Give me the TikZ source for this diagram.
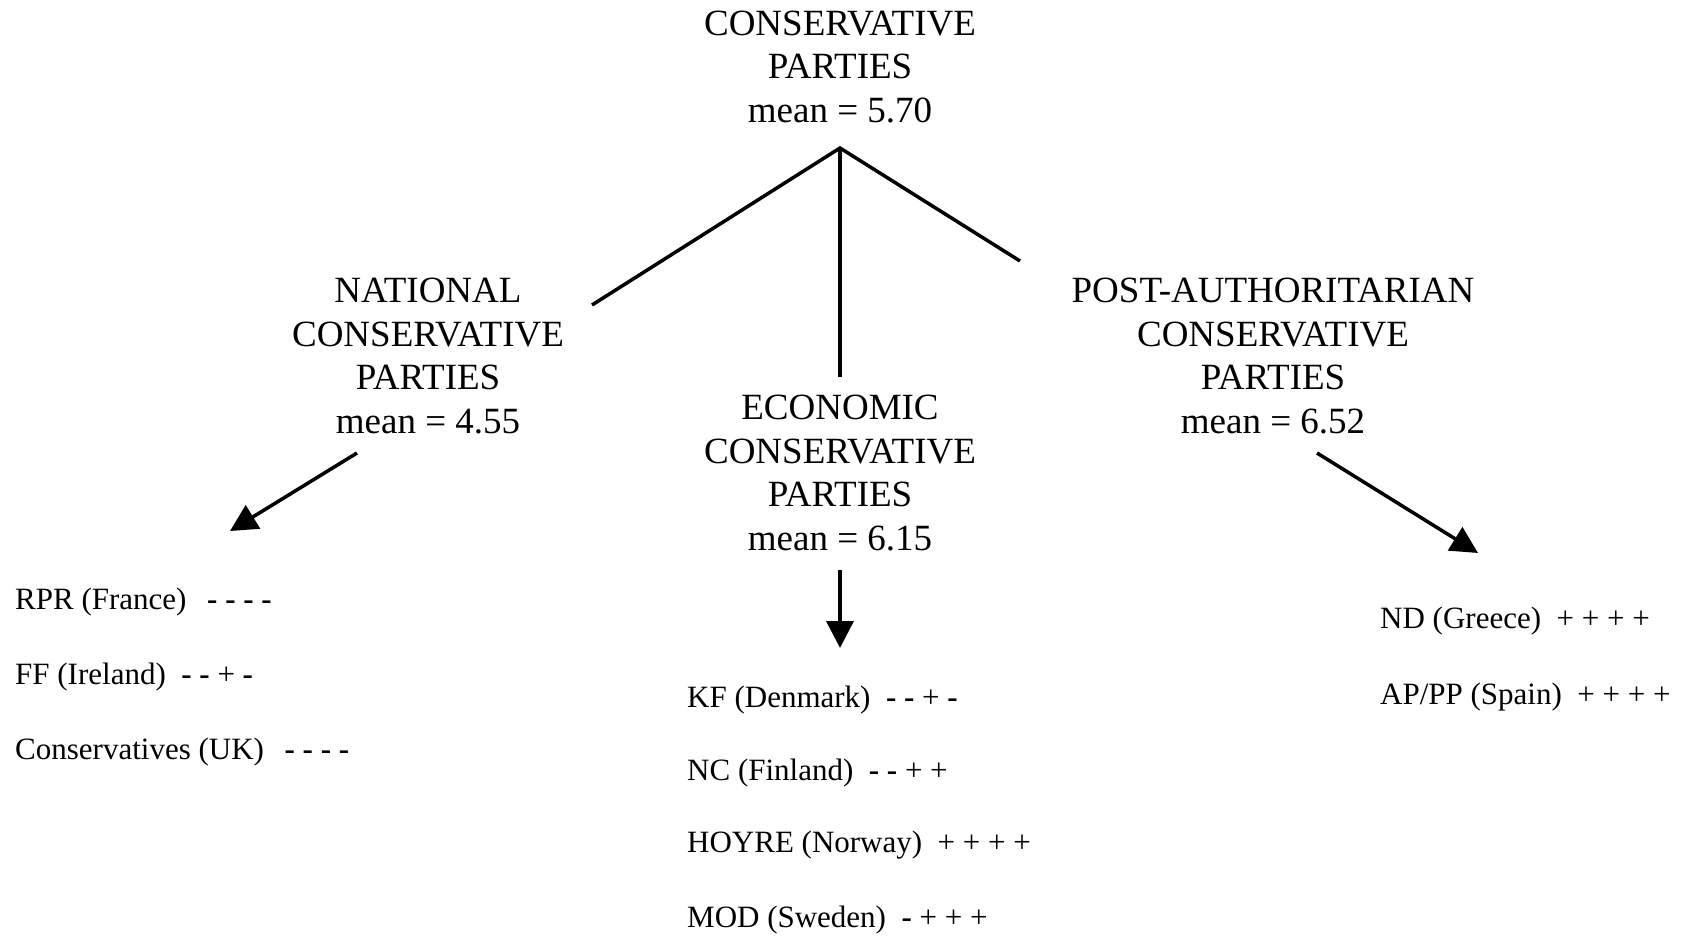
\documentclass[tikz,border=0pt]{standalone}
\usepackage{fontspec}
\setmainfont{Liberation Serif}
\usetikzlibrary{arrows.meta}
\begin{document}
\begin{tikzpicture}[x=1pt,y=-1pt,
  head/.style={align=center,inner sep=0pt,font=\fontsize{37}{43.5}\selectfont},
  item/.style={anchor=west,inner sep=0pt,font=\fontsize{31}{36}\selectfont},
  conn/.style={line width=3.5pt},
  arr/.style={line width=3.5pt,-{Triangle[length=27pt,width=27pt]}}]
\useasboundingbox (0,0) rectangle (1690,935);
% headings
\node[head] (top) at (840,67) {CONSERVATIVE\\PARTIES\\mean = 5.70};
\node[head] (nat) at (428,356) {NATIONAL\\CONSERVATIVE\\PARTIES\\mean = 4.55};
\node[head] (eco) at (840,473) {ECONOMIC\\CONSERVATIVE\\PARTIES\\mean = 6.15};
\node[head] (post) at (1273,356) {POST-AUTHORITARIAN\\CONSERVATIVE\\PARTIES\\mean = 6.52};
% tree lines
\coordinate (apex) at (840,148);
\coordinate (lend) at (592,305);
\coordinate (rend) at (1020,261);
\coordinate (mend) at (840,377);
\draw[conn] (lend) -- (apex) -- (rend);
\draw[conn] (apex) -- (mend);
% arrows
\coordinate (la) at (357,453);
\coordinate (lb) at (230,531);
\coordinate (ma) at (840,570);
\coordinate (mb) at (840,648);
\coordinate (ra) at (1317,453);
\coordinate (rb) at (1478,553);
\draw[arr] (la) -- (lb);
\draw[arr] (ma) -- (mb);
\draw[arr] (ra) -- (rb);
% left list
\node[item] (rpr) at (15,602) {RPR (France)\ \ \,\textbf{- - - -}};
\node[item] (ff) at (15,677) {FF (Ireland)\ \ \textbf{- -} + \textbf{-}};
\node[item] (uk) at (15,752) {Conservatives (UK)\ \ \,\textbf{- - - -}};
% middle list
\node[item] (kf) at (687,700) {KF (Denmark)\ \ \textbf{- -} + \textbf{-}};
\node[item] (nc) at (687,773) {NC (Finland)\ \ \textbf{- -} + +};
\node[item] (hoy) at (687,845) {HOYRE (Norway)\ \ + + + +};
\node[item] (mod) at (687,920) {MOD (Sweden)\ \ \textbf{-} + + +};
% right list
\node[item] (nd) at (1380,621) {ND (Greece)\ \ + + + +};
\node[item] (ap) at (1380,697) {AP/PP (Spain)\ \ + + + +};
\end{tikzpicture}
\end{document}
